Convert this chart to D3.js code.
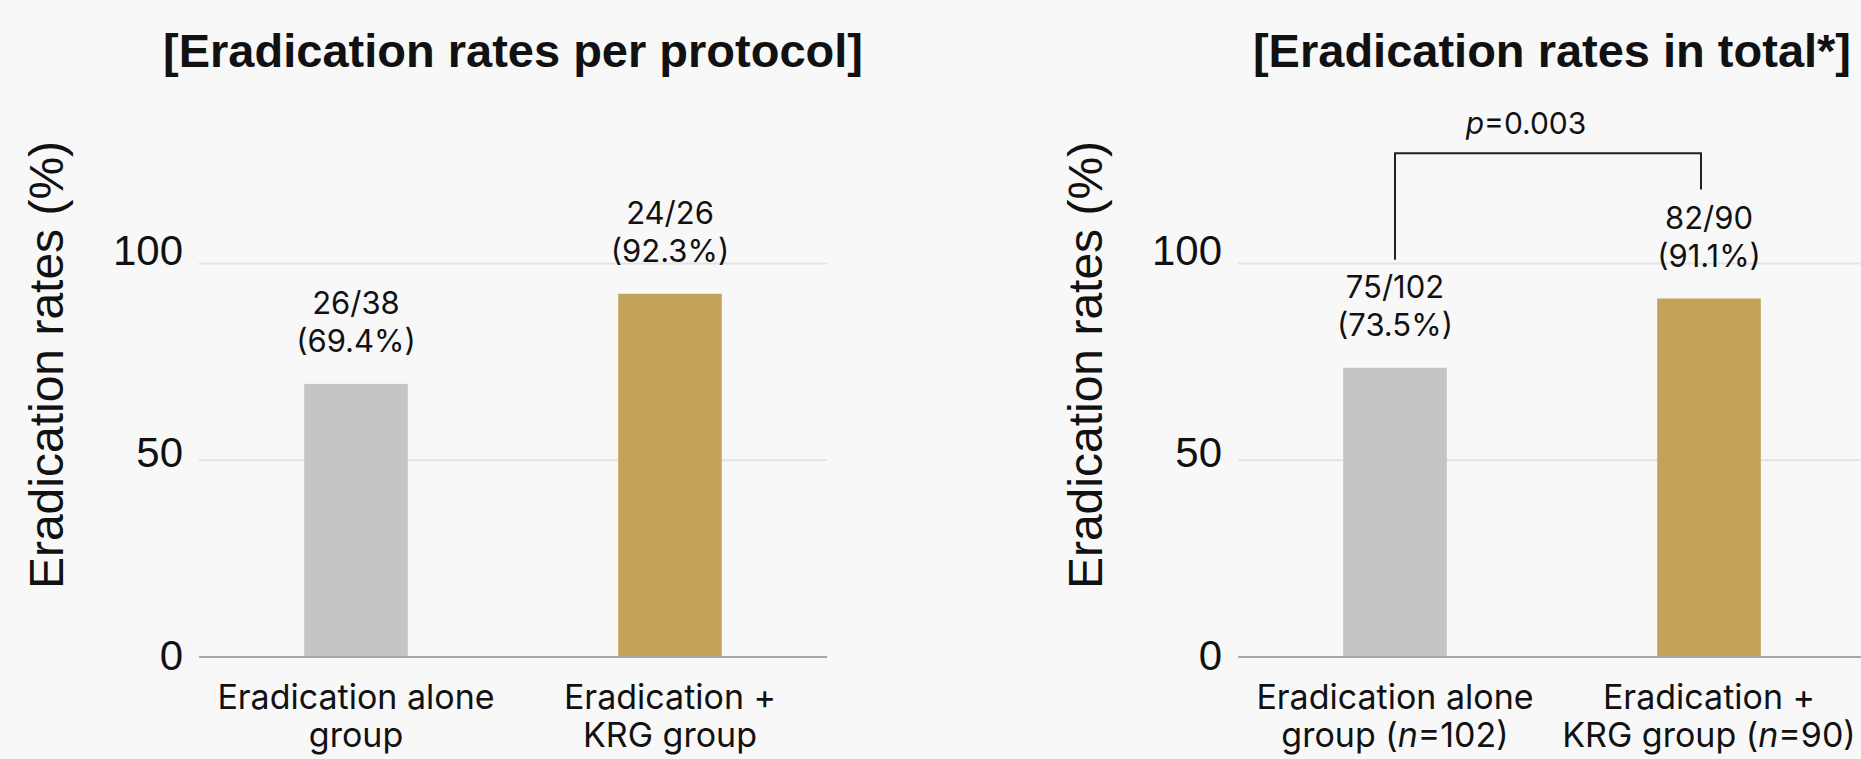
<!DOCTYPE html>
<html>
<head>
<meta charset="utf-8">
<script src="https://cdn.jsdelivr.net/npm/d3@7"></script>
<style>
  html, body { margin: 0; padding: 0; background: #f8f8f8; }
  svg { display: block; }
</style>
</head>
<body>
<svg id="chart" width="1861" height="759"></svg>
<script>
// ---- data ----
const groups = ["alone", "krg"];
const groupLinesPP = [["Eradication alone", "group"], ["Eradication +", "KRG group"]];
const groupLinesTotal = [["Eradication alone", "group"], ["Eradication +", "KRG group"]];
const totalN = [102, 90];
const perProtocolRates = [69.4, 92.3];
const perProtocolCounts = ["26/38", "24/26"];
const totalRates = [73.5, 91.1];
const totalCounts = ["75/102", "82/90"];
const yTicks = [0, 50, 100];
const pValueText = "0.003";
const titles = ["[Eradication rates per protocol]", "[Eradication rates in total*]"];
const yAxisTitle = "Eradication rates (%)";
const barColors = ["#c4c4c4", "#c4a25a"];

// ---- layout ----
const svg = d3.select("#chart");
const plotTop = 263.5, plotBottom = 657;
const panelLefts = [199, 1238];
const plotWidth = 628;

const y = d3.scaleLinear().domain([0, 100]).range([plotBottom, plotTop]);
// baselines of the tick numbers sit a little below their gridlines toward the bottom
const yTickText = d3.scaleLinear().domain([0, 100]).range([plotBottom + 12, plotTop + 1]);

function drawPanel(idx, rates, counts, lines, nValues) {
  const left = panelLefts[idx];
  const x = d3.scaleBand()
    .domain(groups)
    .range([left, left + plotWidth])
    .paddingInner(0.67)
    .paddingOuter(0.335);

  const g = svg.append("g");

  // title
  g.append("text")
    .attr("x", left + plotWidth / 2)
    .attr("y", 67)
    .attr("text-anchor", "middle")
    .attr("font-family", "'Liberation Sans', Arial, sans-serif")
    .attr("font-weight", "bold")
    .attr("font-size", 47)
    .attr("fill", "#111")
    .text(titles[idx]);

  // y axis title
  g.append("text")
    .attr("transform", `translate(${left - 153},${365}) rotate(-90)`)
    .attr("text-anchor", "middle")
    .attr("dominant-baseline", "central")
    .attr("font-family", "'Liberation Sans', Arial, sans-serif")
    .attr("font-size", 48)
    .attr("fill", "#111")
    .text(yAxisTitle);

  // gridlines
  g.selectAll(".grid")
    .data(yTicks.filter(t => t > 0))
    .join("line")
    .attr("x1", left).attr("x2", left + plotWidth)
    .attr("y1", d => y(d)).attr("y2", d => y(d))
    .attr("stroke", "#e3e3e3")
    .attr("stroke-width", 2);

  // y axis tick labels
  const yAxis = d3.axisLeft(yTickText).tickValues(yTicks).tickSize(0).tickPadding(16);
  const ax = g.append("g")
    .attr("transform", `translate(${left},0)`)
    .call(yAxis);
  ax.select(".domain").remove();
  ax.selectAll("text")
    .attr("font-family", "'Liberation Sans', Arial, sans-serif")
    .attr("font-size", 42)
    .attr("fill", "#111")
    .attr("dy", 0);

  // bars
  g.selectAll(".bar")
    .data(rates)
    .join("rect")
    .attr("x", (d, i) => x(groups[i]))
    .attr("width", x.bandwidth())
    .attr("y", d => y(d))
    .attr("height", d => y(0) - y(d))
    .attr("fill", (d, i) => barColors[i]);

  // baseline
  g.append("line")
    .attr("x1", left).attr("x2", left + plotWidth)
    .attr("y1", y(0)).attr("y2", y(0))
    .attr("stroke", "#a8a8a8")
    .attr("stroke-width", 2);

  // value labels: count on the first line, percentage on the second
  const labelFont = "Inter, 'Noto Sans', sans-serif";
  const vl = g.selectAll(".vlabel")
    .data(rates)
    .join("text")
    .attr("text-anchor", "middle")
    .attr("font-family", labelFont)
    .attr("font-size", 31)
    .attr("fill", "#111");
  vl.append("tspan")
    .attr("x", (d, i) => x(groups[i]) + x.bandwidth() / 2)
    .attr("y", d => y(d) - 32 - 38)
    .text((d, i) => counts[i]);
  vl.append("tspan")
    .attr("x", (d, i) => x(groups[i]) + x.bandwidth() / 2)
    .attr("y", d => y(d) - 32)
    .text(d => `(${d.toFixed(1)}%)`);

  // category labels
  const cl = g.selectAll(".clabel")
    .data(lines)
    .join("text")
    .attr("text-anchor", "middle")
    .attr("font-family", labelFont)
    .attr("font-size", 34)
    .attr("fill", "#111");
  cl.append("tspan")
    .attr("x", (d, i) => x(groups[i]) + x.bandwidth() / 2)
    .attr("y", 709)
    .text(d => d[0]);
  const second = cl.append("tspan")
    .attr("x", (d, i) => x(groups[i]) + x.bandwidth() / 2)
    .attr("y", 747);
  second.append("tspan").text(d => d[1]);
  if (nValues) {
    second.append("tspan").text(" (");
    second.append("tspan").attr("font-style", "italic").text("n");
    second.append("tspan").text((d, i) => `=${nValues[i]})`);
  }

  return x;
}

drawPanel(0, perProtocolRates, perProtocolCounts, groupLinesPP, null);
const x2 = drawPanel(1, totalRates, totalCounts, groupLinesTotal, totalN);

// significance bracket between the two groups of the total panel
const cx = groups.map(gk => x2(gk) + x2.bandwidth() / 2);
const legBottom = totalRates.map(v => y(v) - 32 - 38 - 22 - 22);
const bracketY = y(128);
svg.append("path")
  .attr("d", `M${cx[0]},${legBottom[0] + 6}V${bracketY}H${cx[1] - 8}V${legBottom[1] + 5}`)
  .attr("fill", "none")
  .attr("stroke", "#222")
  .attr("stroke-width", 2);

const pText = svg.append("text")
  .attr("x", (cx[0] + cx[1] - 8) / 2 - 22)
  .attr("y", y(133))
  .attr("text-anchor", "middle")
  .attr("font-family", "Inter, 'Noto Sans', sans-serif")
  .attr("font-size", 30)
  .attr("fill", "#111");
pText.append("tspan").attr("font-style", "italic").text("p");
pText.append("tspan").text(`=${pValueText}`);
</script>
</body>
</html>
